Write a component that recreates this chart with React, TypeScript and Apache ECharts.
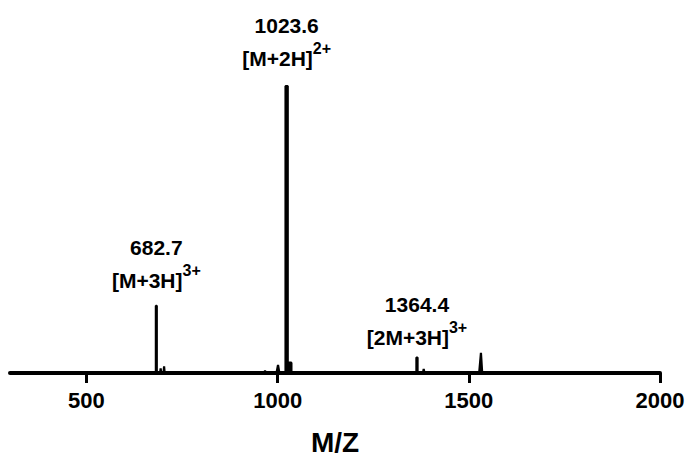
import React, { useEffect, useRef } from "react";
import * as echarts from "echarts";

// Spectrum profile (m/z, relative intensity %)
const spectrumMz = [
  300, 681.5, 681.5, 683.9, 683.9, 692.5, 694, 695.5, 701.5, 703, 704.5,
  965, 967, 969, 997, 1001, 1004.5,
  1020.6, 1020.6, 1026.4, 1026.4, 1036, 1036,
  1362.9, 1362.9, 1365.9, 1365.9, 1380, 1382, 1384,
  1527, 1531.7, 1535, 2000,
];
const spectrumIntensity = [
  0, 0, 23.4, 23.4, 0, 0, 1.6, 0, 0, 2.3, 0,
  0, 0.8, 0, 0, 2.8, 0,
  0, 100, 100, 3.6, 3.6, 0,
  0, 5.4, 5.4, 0, 0, 1.4, 0,
  0, 7.0, 0, 0,
];

// Annotated peaks
const labelMz = [682.7, 1023.6, 1364.4];
const labelIntensity = [23.4, 100, 5.4];
const labelIon = ["[M+3H]", "[M+2H]", "[2M+3H]"];
const labelCharge = ["3+", "2+", "3+"];

// Axis
const xTicks = [500, 1000, 1500, 2000];
const xMin = 300;
const xMax = 2000;
const xName = "M/Z";

const FONT = "'Liberation Sans', Arial, Helvetica, sans-serif";

export default function App() {
  const ref = useRef<HTMLDivElement>(null);
  useEffect(() => {
    if (!ref.current) return;
    const chart = echarts.init(ref.current, null, { renderer: "svg" });
    const lineData = spectrumMz.map((m, i) => [m, spectrumIntensity[i]]);
    const labelGaps = [7, 9, 2];
    const labelData = labelMz.map((m, i) => ({
      value: [m, labelIntensity[i]],
      label: { distance: labelGaps[i] },
    }));
    const richBase = {
      fontFamily: FONT,
      fontWeight: "bold",
      color: "#000",
    };
    chart.setOption({
      animation: false,
      backgroundColor: "#ffffff",
      grid: {
        left: 10,
        right: 31,
        top: 86,
        bottom: 86,
        containLabel: false,
        outerBoundsMode: "none",
      },
      xAxis: {
        type: "value",
        min: xMin,
        max: xMax,
        name: xName,
        nameLocation: "middle",
        nameGap: 55,
        nameTextStyle: {
          color: "#000",
          fontFamily: FONT,
          fontWeight: "bold",
          fontSize: 28,
        },
        splitLine: { show: false },
        axisLine: {
          show: true,
          onZero: false,
          lineStyle: { color: "#000", width: 4 },
        },
        axisTick: {
          show: true,
          length: 10,
          customValues: xTicks,
          lineStyle: { color: "#000", width: 3 },
        },
        axisLabel: {
          customValues: xTicks,
          formatter: (v: number) => String(v),
          color: "#000",
          fontFamily: FONT,
          fontWeight: "bold",
          fontSize: 22,
          margin: 16,
        },
      },
      yAxis: {
        type: "value",
        min: 0,
        max: 100,
        show: false,
      },
      series: [
        {
          type: "line",
          data: lineData,
          symbol: "none",
          clip: false,
          lineStyle: { color: "#000", width: 2.2, join: "bevel" },
          areaStyle: { color: "#000", opacity: 1 },
          z: 3,
        },
        {
          type: "scatter",
          data: labelData,
          symbolSize: 1,
          itemStyle: { color: "rgba(0,0,0,0)", opacity: 1 },
          label: {
            show: true,
            position: "top",
            color: "#000",
            opacity: 1,
            fontFamily: FONT,
            fontWeight: "bold",
            fontSize: 21,
            formatter: (p: any) =>
              `{a|${labelMz[p.dataIndex].toFixed(1)}}\n{b|${labelIon[p.dataIndex]}}{s|${labelCharge[p.dataIndex]}}`,
            rich: {
              a: { ...richBase, fontSize: 21, lineHeight: 30 },
              b: { ...richBase, fontSize: 21, lineHeight: 36 },
              s: {
                ...richBase,
                fontSize: 16,
                lineHeight: 17,
                verticalAlign: "top",
              },
            },
          },
          z: 4,
        },
      ],
    });
    return () => chart.dispose();
  }, []);
  return (
    <div
      ref={ref}
      style={{ position: "fixed", left: 0, top: 0, width: 691, height: 459 }}
    />
  );
}
